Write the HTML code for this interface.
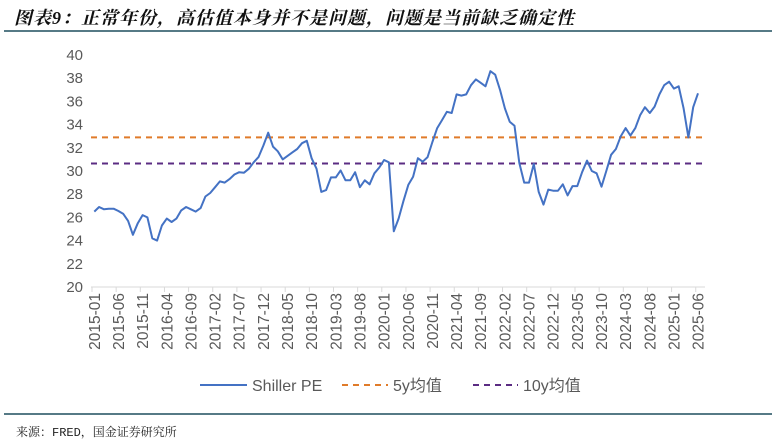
<!DOCTYPE html>
<html><head><meta charset="utf-8"><style>
html,body{margin:0;padding:0;background:#fff;}
body{width:776px;height:445px;position:relative;overflow:hidden;font-family:"Liberation Sans","Noto Sans CJK SC",sans-serif;}
#title{position:absolute;left:14px;top:4px;font-size:18px;font-weight:bold;font-style:italic;color:#111;font-family:"Liberation Serif","Noto Serif CJK SC",serif;letter-spacing:1px;}
#src{position:absolute;left:16px;top:423px;font-size:12px;color:#222;font-family:"Liberation Mono","Noto Serif CJK SC",monospace;}
</style></head><body>
<div id="title">图表9：正常年份，高估值本身并不是问题，问题是当前缺乏确定性</div>
<svg id="chart" width="776" height="445" style="position:absolute;left:0;top:0">
<line x1="4" y1="31" x2="772" y2="31" stroke="#1f4e5f" stroke-width="1.5"/>
<line x1="4" y1="414" x2="772" y2="414" stroke="#1f4e5f" stroke-width="1.5"/>
<g id="yaxis"></g><g id="xaxis"></g><g id="series"></g><g id="legend"></g>
</svg>
<div id="src">来源：FRED，国金证券研究所</div>
<script>
const startYear = 2015, startMonth = 1;
const shillerPE = [26.5,26.9,26.7,26.75,26.75,26.55,26.3,25.7,24.5,25.5,26.2,26.0,24.2,24.0,25.3,25.9,25.6,25.9,26.6,26.9,26.7,26.5,26.8,27.8,28.1,28.6,29.1,29.0,29.3,29.7,29.9,29.85,30.2,30.75,31.2,32.2,33.3,32.1,31.7,31.0,31.3,31.6,31.9,32.4,32.6,31.1,30.2,28.2,28.35,29.45,29.45,30.05,29.2,29.2,29.9,28.6,29.2,28.85,29.8,30.3,30.95,30.75,24.8,25.9,27.4,28.8,29.5,31.1,30.8,31.2,32.5,33.7,34.4,35.1,35.0,36.6,36.5,36.6,37.4,37.9,37.6,37.3,38.6,38.3,37.0,35.4,34.25,33.9,30.7,29.0,29.0,30.6,28.2,27.1,28.4,28.3,28.3,28.85,27.9,28.7,28.7,29.9,30.9,30.0,29.8,28.65,30.0,31.4,31.9,33.0,33.7,33.05,33.7,34.8,35.5,35.0,35.55,36.6,37.4,37.7,37.1,37.3,35.4,32.9,35.5,36.7];
const avg5y = [32.9];
const avg10y = [30.65];
const yTicks = [20,22,24,26,28,30,32,34,36,38,40];
const legendLabels = ["Shiller PE","5y均值","10y均值"];

const NS="http://www.w3.org/2000/svg";
const X0=94.3, DX=4.83, YB=287, YT=55, VMIN=20, VMAX=40, XL=91, XR=705;
const yS=v=>YB-(v-VMIN)/(VMAX-VMIN)*(YB-YT);
const xS=i=>X0+i*DX;
function mk(tag,attrs,parent){const e=document.createElementNS(NS,tag);for(const k in attrs)e.setAttribute(k,attrs[k]);parent.appendChild(e);return e;}
const ya=document.getElementById('yaxis'),xa=document.getElementById('xaxis'),sg=document.getElementById('series'),lg=document.getElementById('legend');
yTicks.forEach(v=>{
  const t=mk('text',{x:83,y:yS(v)+5,'text-anchor':'end','font-size':15,fill:'#595959'},ya);
  
  
  t.textContent=v;
});
const base=mk('line',{x1:XL,y1:YB,x2:XR,y2:YB,stroke:'#d9d9d9','stroke-width':1},xa);


for(let i=0;i<shillerPE.length;i++){
  if(i%5!==0)continue;
  const tx=xS(i)-2.3;
  const tk=mk('line',{x1:tx,y1:YB,x2:tx,y2:YB+5,stroke:'#d9d9d9'},xa);
  
  
  const m=startMonth-1+i, yr=startYear+Math.floor(m/12), mo=m%12+1;
  const lx=xS(i)+5.5;
  const t=mk('text',{x:lx,y:293,transform:`rotate(-90 ${lx} 293)`,'text-anchor':'end','font-size':15.5,fill:'#595959'},xa);
  
  
  t.textContent=yr+'-'+String(mo).padStart(2,'0');
}
const l5=mk('line',{x1:XL,x2:XR,y1:yS(avg5y[0]),y2:yS(avg5y[0]),stroke:'#e07b2a','stroke-width':2,'stroke-dasharray':'6,5'},sg);


const l10=mk('line',{x1:XL,x2:XR,y1:yS(avg10y[0]),y2:yS(avg10y[0]),stroke:'#5b2c83','stroke-width':2,'stroke-dasharray':'6,5'},sg);


const pl=mk('polyline',{points:shillerPE.map((v,i)=>xS(i).toFixed(1)+','+yS(v).toFixed(1)).join(' '),fill:'none',stroke:'#4472c4','stroke-width':2,'stroke-linejoin':'round'},sg);


const LY=385;
const items=[{x1:200,x2:247,tx:252,c:'#4472c4',d:''},{x1:342,x2:388,tx:393,c:'#e07b2a',d:'6,5'},{x1:473,x2:518,tx:523,c:'#5b2c83',d:'6,5'}];
items.forEach((it,k)=>{
  const g=mk('g',{},lg);
  
  
  const a={x1:it.x1,x2:it.x2,y1:LY,y2:LY,stroke:it.c,'stroke-width':2};
  if(it.d)a['stroke-dasharray']=it.d;
  mk('line',a,g);
  const t=mk('text',{x:it.tx,y:LY+6,'font-size':16,fill:'#595959'},g);
  t.textContent=legendLabels[k];
});
</script>
</body></html>
